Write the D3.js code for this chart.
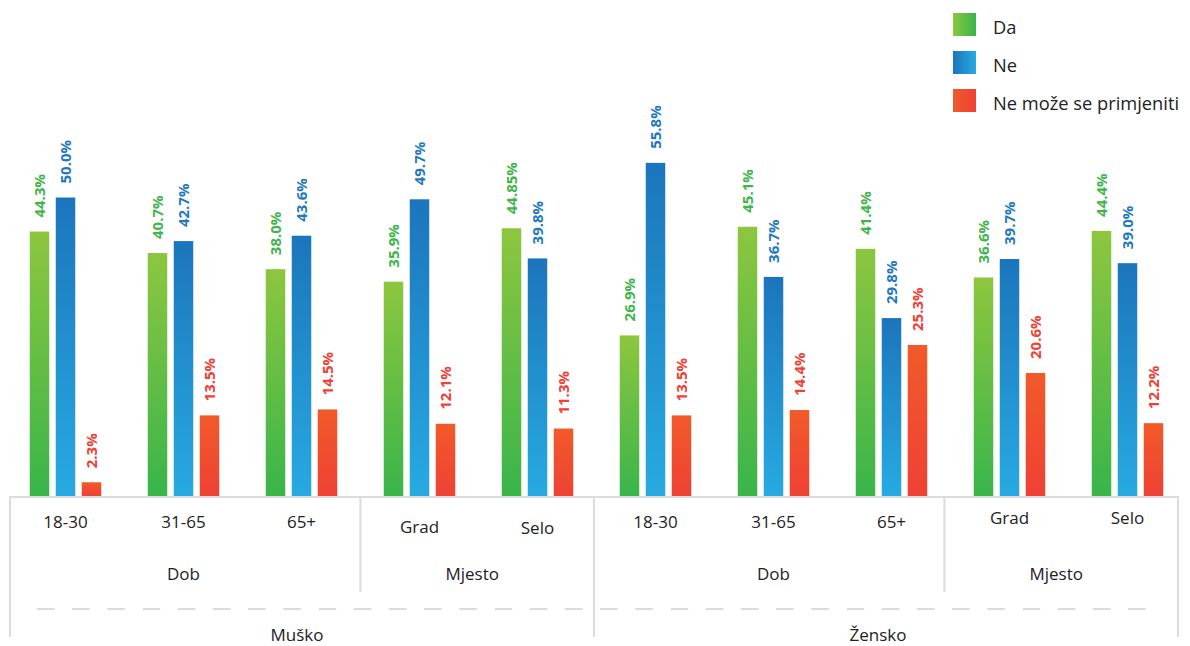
<!DOCTYPE html>
<html>
<head>
<meta charset="utf-8">
<script src="https://cdn.jsdelivr.net/npm/d3@7"></script>
<style>
  html, body { margin: 0; padding: 0; background: #fff; }
  svg { display: block; font-family: "Open Sans", "Noto Sans", sans-serif; }
</style>
</head>
<body>
<div id="chart"></div>
<script>
// chart data
const genders = ["Muško", "Žensko"];
const subGroups = ["Dob", "Mjesto", "Dob", "Mjesto"];
const subGroupSize = [3, 2, 3, 2];
const categories = ["18-30", "31-65", "65+", "Grad", "Selo", "18-30", "31-65", "65+", "Grad", "Selo"];
const seriesNames = ["Da", "Ne", "Ne može se primjeniti"];
const daValues = [44.3, 40.7, 38.0, 35.9, 44.85, 26.9, 45.1, 41.4, 36.6, 44.4];
const neValues = [50.0, 42.7, 43.6, 49.7, 39.8, 55.8, 36.7, 29.8, 39.7, 39.0];
const nmValues = [2.3, 13.5, 14.5, 12.1, 11.3, 13.5, 14.4, 25.3, 20.6, 12.2];

const width = 1190;
const height = 646;
const baseY = 496;

// colours: [top/left, bottom/right] of each gradient, plus label colour
const palette = [
    { a: "#8dc63f", b: "#39b54a", text: "#3fb54b" },
    { a: "#1c75bc", b: "#27aae1", text: "#1f78c1" },
    { a: "#f15a29", b: "#ef4136", text: "#ef4136" }
];

const seriesValues = [daValues, neValues, nmValues];
const idx = d3.range(categories.length);

const svg = d3.select("#chart").append("svg")
    .attr("width", width)
    .attr("height", height);

const defs = svg.append("defs");
palette.forEach((p, i) => {
    const v = defs.append("linearGradient").attr("id", "gv" + i)
        .attr("x1", 0).attr("y1", 0).attr("x2", 0).attr("y2", 1);
    v.append("stop").attr("offset", "0%").attr("stop-color", p.a);
    v.append("stop").attr("offset", "100%").attr("stop-color", p.b);
    const h = defs.append("linearGradient").attr("id", "gh" + i)
        .attr("x1", 0).attr("y1", 0).attr("x2", 1).attr("y2", 0);
    h.append("stop").attr("offset", "0%").attr("stop-color", p.a);
    h.append("stop").attr("offset", "100%").attr("stop-color", p.b);
});

// scales
const x0 = d3.scaleBand().domain(idx).range([6.5, 1186.5]);
const x1 = d3.scaleBand().domain(d3.range(seriesNames.length))
    .range([-35.75, 35.75]).paddingInner(0.25).paddingOuter(0);
const frame = d3.scaleLinear().domain([0, categories.length]).range([10, 1178]);
const y = d3.scaleLinear().domain([0, 60]).range([baseY, baseY - 358.2]);

const fmt = v => Number.isInteger(Math.round(v * 100) / 10) ? v.toFixed(1) : String(v);

// bars
const cat = svg.append("g").selectAll("g")
    .data(idx)
    .join("g")
    .attr("transform", i => `translate(${x0(i) + x0.bandwidth() / 2},0)`);

const cells = cat.selectAll("g")
    .data(i => seriesValues.map((vals, s) => ({ s, v: vals[i] })))
    .join("g");

cells.append("rect")
    .attr("x", d => x1(d.s))
    .attr("width", x1.bandwidth())
    .attr("y", d => y(d.v))
    .attr("height", d => baseY - y(d.v))
    .attr("fill", d => `url(#gv${d.s})`);

cells.append("text")
    .attr("transform", d => `translate(${x1(d.s) + x1.bandwidth() / 2 + 0.5},${y(d.v) - 14}) rotate(-90)`)
    .attr("dy", "0.35em")
    .attr("font-size", 15)
    .attr("font-weight", 700)
    .attr("fill", d => palette[d.s].text)
    .text(d => fmt(d.v) + "%");

// grouped category axis
const axis = svg.append("g").attr("stroke", "#dcdcdc").attr("stroke-width", 2).attr("fill", "none");
axis.append("line").attr("x1", frame(0)).attr("x2", frame(categories.length))
    .attr("y1", baseY + 1).attr("y2", baseY + 1);

const subStart = subGroupSize.map((n, i) => d3.sum(subGroupSize.slice(0, i)));
const genderStart = [0, subGroupSize[0] + subGroupSize[1]];

// full-height lines at gender edges
[0, genderStart[1], categories.length].forEach(k => {
    axis.append("line").attr("x1", frame(k)).attr("x2", frame(k))
        .attr("y1", baseY).attr("y2", 637);
});
// mid-height lines between sub groups
[subStart[1], subStart[3]].forEach(k => {
    axis.append("line").attr("x1", frame(k)).attr("x2", frame(k))
        .attr("y1", baseY).attr("y2", 592);
});
// dashed divider
axis.append("line")
    .attr("x1", 37).attr("x2", 1147).attr("y1", 609).attr("y2", 609)
    .attr("stroke-dasharray", "17.6,17.6");

const labels = svg.append("g").attr("fill", "#222").attr("text-anchor", "middle");

// leaf labels (small vertical shifts as in the original layout)
const leafY = [528, 528, 528, 533, 534, 528, 528, 528, 524, 524];
labels.selectAll("text.leaf")
    .data(idx)
    .join("text")
    .attr("class", "leaf")
    .attr("x", i => x0(i) + x0.bandwidth() / 2)
    .attr("y", i => leafY[i])
    .attr("font-size", 17)
    .text(i => categories[i]);

labels.selectAll("text.sub")
    .data(subGroups)
    .join("text")
    .attr("class", "sub")
    .attr("x", (d, i) => i % 2 === 0
        ? d3.mean(d3.range(subStart[i], subStart[i] + subGroupSize[i]), k => x0(k) + x0.bandwidth() / 2)
        : (frame(subStart[i]) + frame(subStart[i] + subGroupSize[i])) / 2 - 5)
    .attr("y", 580)
    .attr("font-size", 17)
    .text(d => d);

const gEnd = [genderStart[1], categories.length];
labels.selectAll("text.gender")
    .data(genders)
    .join("text")
    .attr("class", "gender")
    .attr("x", (d, i) => (frame(genderStart[i]) + frame(gEnd[i])) / 2 - (i === 0 ? 5 : 8))
    .attr("y", 641)
    .attr("font-size", 17)
    .text(d => d);

// legend
const legend = svg.append("g").attr("transform", "translate(953,13)");
const item = legend.selectAll("g")
    .data(seriesNames)
    .join("g")
    .attr("transform", (d, i) => `translate(0,${i * 38})`);
item.append("rect")
    .attr("width", 23).attr("height", 23)
    .attr("fill", (d, i) => `url(#gh${i})`);
item.append("text")
    .attr("x", 40).attr("y", 21)
    .attr("font-size", 18.3)
    .attr("fill", "#222")
    .text(d => d);
</script>
</body>
</html>
